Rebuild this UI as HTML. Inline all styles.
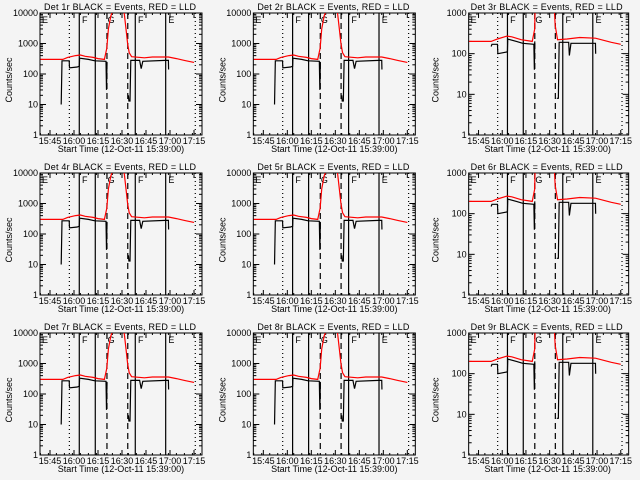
<!DOCTYPE html>
<html><head><meta charset="utf-8"><style>
body{margin:0;background:#f4f4f4}
svg{display:block}
text{font-family:"Liberation Sans",sans-serif;font-size:9px;fill:#000}
</style></head><body>
<svg id="chart" width="640" height="480"></svg>
<script>
// Time in minutes since 15:39:00
const detNames=['1r','2r','3r','4r','5r','6r','7r','8r','9r'];
const tickLabels=['15:45','16:00','16:15','16:30','16:45','17:00','17:15'];
const tickTimes=[6,21,36,51,66,81,96];
const dottedTimes=[18.1,96.8];
const solidTimes=[24.3,34.3,59.3,78.3];
const dashedTimes=[41.6,54.6];
const letterTimes=[1,26,42,61,80];
const letterLabels=['E','F','G','F','E'];
// high-range detectors (1,2,4,5,7,8)
const redAt=[0,14,17,22,25,28,33,36,40,41.5,42.5,44,46,52,53.5,54.5,55.5,57,65,70,80,85,90,96];
const redAv=[300,300,350,400,420,380,350,320,300,700,3000,8000,15000,15000,3000,1000,500,370,340,360,360,320,280,240];
const blkAt=[13,13.5,18,18.2,23,24.3,24.5,30,34,41,41.3,41.6,null,55,55.3,56,56.5,62,63,64,78,80,80.1];
const blkAv=[10,270,270,160,170,180,330,300,270,260,30,250,null,20,13,13,280,280,150,260,280,280,140];
// low-range detectors (3,6,9)
const redBt=[0,14,18,24,27,33,40,41.5,42,53.5,54.5,56,62,70,80,90,96];
const redBv=[200,200,230,270,260,220,200,400,3000,3000,500,220,230,250,240,190,170];
const blkBt=[14,14.5,18,18.2,24,24.3,24.5,30,34,41,41.3,41.6,null,55.5,56,56.5,57,63,63.5,64.5,80,80.1];
const blkBv=[150,170,170,100,110,115,230,200,180,170,40,200,null,8,8,8,190,190,90,180,180,100];

const NS='http://www.w3.org/2000/svg';
const svg=document.getElementById('chart');
function mk(tag,attrs,parent){const e=document.createElementNS(NS,tag);for(const k in attrs)e.setAttribute(k,attrs[k]);parent.appendChild(e);return e;}

for(let i=0;i<9;i++){
  const col=i%3,row=Math.floor(i/3);
  const low=(col===2);
  const g=mk('g',{transform:`translate(${col*213.33},${row*160})`},svg);
  
  
  const x0=low?42:40,x1=202,y0=13,y1=135;
  const top=low?3:4;
  const xs=t=>x0+(t+0.25)*(x1-x0)/101.25;
  const ys=v=>y1-Math.log10(Math.max(v,0.5))*(y1-y0)/top;
  const clipId='c'+i;
  const cp=mk('clipPath',{id:clipId},g);mk('rect',{x:x0,y:y0,width:x1-x0,height:y1-y0},cp);
  const title=mk('text',{x:120,y:10,'text-anchor':'middle','font-size':'9','textLength':'152'},g);
  title.textContent='Det '+detNames[i]+' BLACK = Events, RED = LLD';
  
  
  const frame=mk('rect',{x:x0,y:y0,width:x1-x0,height:y1-y0,fill:'none',stroke:'#000','stroke-width':1},g);
  
  
  for(let d=0;d<=top;d++){
    const y=ys(Math.pow(10,d));
    mk('line',{x1:x0,x2:x0+6,y1:y,y2:y,stroke:'#000'},g);
    mk('line',{x1:x1,x2:x1-6,y1:y,y2:y,stroke:'#000'},g);
    const lb=mk('text',{x:x0-2,y:y+3,'text-anchor':'end','font-size':'7.5'},g);
    lb.textContent=String(Math.pow(10,d));
    
    
    if(d<top)for(let m=2;m<10;m++){const ym=ys(m*Math.pow(10,d));
      mk('line',{x1:x0,x2:x0+3,y1:ym,y2:ym,stroke:'#000'},g);
      mk('line',{x1:x1,x2:x1-3,y1:ym,y2:ym,stroke:'#000'},g);}
  }
  tickTimes.forEach((t,k)=>{const x=xs(t);
    mk('line',{x1:x,x2:x,y1:y1,y2:y1-5,stroke:'#000'},g);
    mk('line',{x1:x,x2:x,y1:y0,y2:y0+5,stroke:'#000'},g);
    const lb=mk('text',{x:x,y:y1+9,'text-anchor':'middle','font-size':'7'},g);
    lb.textContent=tickLabels[k];
    
    
  });
  for(let t=0;t<=100;t+=5){const x=xs(t);mk('line',{x1:x,x2:x,y1:y1,y2:y1-2,stroke:'#000'},g);mk('line',{x1:x,x2:x,y1:y0,y2:y0+2,stroke:'#000'},g);}
  const xt=mk('text',{x:121,y:152,'text-anchor':'middle','font-size':'8.5'},g);
  xt.textContent='Start Time (12-Oct-11 15:39:00)';
  
  
  const yt=mk('text',{x:0,y:0,'text-anchor':'middle','font-size':'7.5',transform:`translate(12,${(y0+y1)/2+6}) rotate(-90)`},g);
  yt.textContent='Counts/sec';
  
  
  const vl=(arr,dash,name)=>arr.forEach(t=>{const l=mk('line',{x1:xs(t),x2:xs(t),y1:y0,y2:y1,stroke:'#000','stroke-width':1.2,'stroke-dasharray':dash},g);
    
    });
  vl(dottedTimes,'1,3','dotted-marker');vl(solidTimes,'none','solid-marker');vl(dashedTimes,'6,4','dashed-marker');
  letterTimes.forEach((t,k)=>{const lt=mk('text',{x:xs(t),y:y0+10,'font-size':'12'},g);lt.textContent=letterLabels[k];
    
    });
  const series=(ts,vs,color,name)=>{let d='',pen=false;
    for(let k=0;k<ts.length;k++){if(ts[k]===null){pen=false;continue;}
      const x=xs(ts[k]).toFixed(1),y=ys(vs[k]).toFixed(1);
      if(!pen){d+=`M${x},${y}`;pen=true;}else d+=`L${x},${y}`;}
    const p=mk('path',{d:d,fill:'none',stroke:color,'stroke-width':1.2,'clip-path':`url(#${clipId})`},g);
    
    };
  if(low){series(blkBt,blkBv,'#000','events-series');series(redBt,redBv,'#f00','lld-series');}
  else{series(blkAt,blkAv,'#000','events-series');series(redAt,redAv,'#f00','lld-series');}
}
</script></body></html>
